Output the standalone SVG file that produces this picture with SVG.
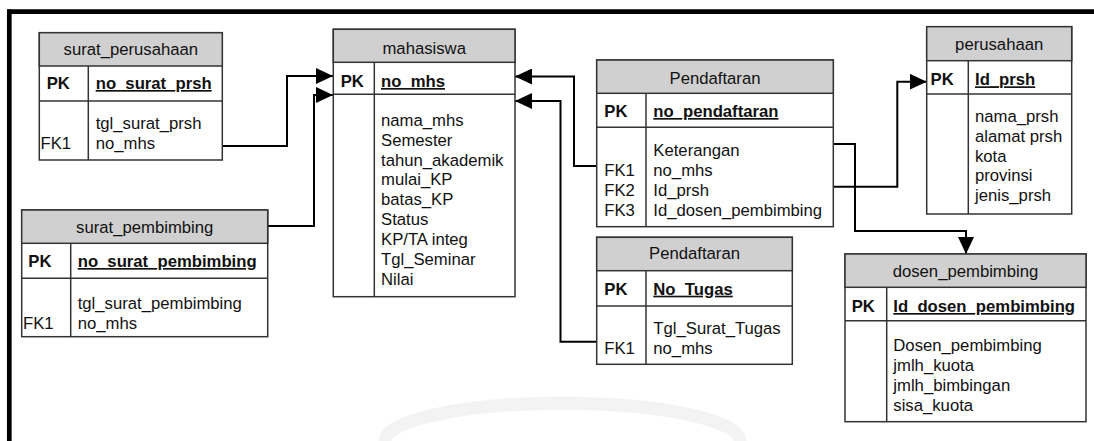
<svg xmlns="http://www.w3.org/2000/svg" width="1094" height="441" viewBox="0 0 1094 441">
<style>
text{font-family:"Liberation Sans",Arial,sans-serif;font-size:16.7px;fill:#111}
.hd{text-anchor:middle}
.b{font-weight:bold}
.u{font-weight:bold;text-decoration:underline}
.box{fill:#fff;stroke:#333;stroke-width:1.5}
.head{fill:#d0d0d0;stroke:#333;stroke-width:1.5}
.ln{stroke:#333;stroke-width:1.5;fill:none}
.con{stroke:#000;stroke-width:2;fill:none;marker-end:url(#ah)}
</style>
<defs>
<marker id="ah" markerUnits="userSpaceOnUse" viewBox="0 0 17 16" refX="17" refY="8" markerWidth="17" markerHeight="16" orient="auto">
<path d="M0,0 L17,8 L0,16 Z" fill="#000"/>
</marker>
</defs>
<rect width="1094" height="441" fill="#fff"/>
<path d="M540,441 m-155,0 a160,34 0 0 1 355,0" fill="none" stroke="#f3f3f3" stroke-width="13"/>
<g id="frame">
<line x1="7" y1="11.7" x2="1094" y2="11.7" stroke="#000" stroke-width="4.7"/>
<line x1="9.3" y1="9.5" x2="9.3" y2="441" stroke="#000" stroke-width="4.7"/>
</g>
<g id="connectors">
<path class="con" d="M222.3,146 H287 V76 H333"/>
<path class="con" d="M267.7,226 H314 V95 H333"/>
<path class="con" d="M596.7,166 H574 V76.5 H515"/>
<path class="con" d="M596.7,341.7 H560.5 V101 H515"/>
<path class="con" d="M833.3,186.7 H897.3 V81.7 H926.7"/>
<path class="con" d="M833.3,144 H855 V231 H966 V254"/>
</g>
<g id="surat_perusahaan">
<rect class="box" x="39.3" y="32.7" width="183" height="127.3"/>
<rect class="head" x="39.3" y="32.7" width="183" height="33.3"/>
<line class="ln" x1="39.3" y1="101" x2="222.3" y2="101"/>
<line class="ln" x1="88.3" y1="66" x2="88.3" y2="160"/>
<text class="hd" x="130.8" y="55">surat_perusahaan</text>
<text class="b" x="46.7" y="89">PK</text>
<text class="u" x="95.7" y="89">no_surat_prsh</text>
<text x="95.7" y="128.7">tgl_surat_prsh</text>
<text x="95.7" y="148.5">no_mhs</text>
<text x="40.5" y="148.5">FK1</text>
</g>
<g id="surat_pembimbing">
<rect class="box" x="21.7" y="210" width="246" height="126.7"/>
<rect class="head" x="21.7" y="210" width="246" height="33.3"/>
<line class="ln" x1="21.7" y1="278.3" x2="267.7" y2="278.3"/>
<line class="ln" x1="70.7" y1="243.3" x2="70.7" y2="336.7"/>
<text class="hd" x="144.7" y="233">surat_pembimbing</text>
<text class="b" x="28.3" y="267">PK</text>
<text class="u" x="77.7" y="267">no_surat_pembimbing</text>
<text x="77.7" y="308.7">tgl_surat_pembimbing</text>
<text x="77.7" y="328.5">no_mhs</text>
<text x="23" y="328.5">FK1</text>
</g>
<g id="mahasiswa">
<rect class="box" x="333.3" y="29.3" width="181.7" height="267.4"/>
<rect class="head" x="333.3" y="29.3" width="181.7" height="33"/>
<line class="ln" x1="333.3" y1="94.3" x2="515" y2="94.3"/>
<line class="ln" x1="374.3" y1="62.3" x2="374.3" y2="296.7"/>
<text class="hd" x="424.2" y="53.7">mahasiswa</text>
<text class="b" x="340.7" y="87">PK</text>
<text class="u" x="381" y="87">no_mhs</text>
<text x="381" y="126">nama_mhs</text>
<text x="381" y="145.8">Semester</text>
<text x="381" y="165.6">tahun_akademik</text>
<text x="381" y="185.4">mulai_KP</text>
<text x="381" y="205.2">batas_KP</text>
<text x="381" y="225">Status</text>
<text x="381" y="244.8">KP/TA integ</text>
<text x="381" y="264.6">Tgl_Seminar</text>
<text x="381" y="284.6">Nilai</text>
</g>
<g id="pendaftaran">
<rect class="box" x="596.7" y="60" width="236.6" height="166.7"/>
<rect class="head" x="596.7" y="60" width="236.6" height="33.3"/>
<line class="ln" x1="596.7" y1="127.3" x2="833.3" y2="127.3"/>
<line class="ln" x1="646" y1="93.3" x2="646" y2="226.7"/>
<text class="hd" x="715" y="83.7">Pendaftaran</text>
<text class="b" x="604.3" y="117">PK</text>
<text class="u" x="653.3" y="117">no_pendaftaran</text>
<text x="653.3" y="156.3">Keterangan</text>
<text x="653.3" y="176">no_mhs</text>
<text x="653.3" y="195.8">Id_prsh</text>
<text x="653.3" y="215.6">Id_dosen_pembimbing</text>
<text x="604.3" y="176">FK1</text>
<text x="604.3" y="195.8">FK2</text>
<text x="604.3" y="215.6">FK3</text>
</g>
<g id="pendaftaran_tugas">
<rect class="box" x="596.7" y="237.3" width="195.6" height="127"/>
<rect class="head" x="596.7" y="237.3" width="195.6" height="33.4"/>
<line class="ln" x1="596.7" y1="306" x2="792.3" y2="306"/>
<line class="ln" x1="646" y1="270.7" x2="646" y2="364.3"/>
<text class="hd" x="694.5" y="258.7">Pendaftaran</text>
<text class="b" x="604.3" y="294.7">PK</text>
<text class="u" x="653.3" y="294.7">No_Tugas</text>
<text x="653.3" y="333.7">Tgl_Surat_Tugas</text>
<text x="653.3" y="353.5">no_mhs</text>
<text x="604.3" y="353.5">FK1</text>
</g>
<g id="perusahaan">
<rect class="box" x="926.7" y="26.7" width="145" height="187.3"/>
<rect class="head" x="926.7" y="26.7" width="145" height="34"/>
<line class="ln" x1="926.7" y1="94" x2="1071.7" y2="94"/>
<line class="ln" x1="968.3" y1="60.7" x2="968.3" y2="214"/>
<text class="hd" x="999.2" y="50.3">perusahaan</text>
<text class="b" x="930.5" y="85.3">PK</text>
<text class="u" x="975" y="85.3">Id_prsh</text>
<text x="975" y="122">nama_prsh</text>
<text x="975" y="141.8">alamat prsh</text>
<text x="975" y="161.6">kota</text>
<text x="975" y="181.4">provinsi</text>
<text x="975" y="201.2">jenis_prsh</text>
</g>
<g id="dosen_pembimbing">
<rect class="box" x="845" y="254" width="241" height="167.7"/>
<rect class="head" x="845" y="254" width="241" height="33.3"/>
<line class="ln" x1="845" y1="320.7" x2="1086" y2="320.7"/>
<line class="ln" x1="886.7" y1="287.3" x2="886.7" y2="421.7"/>
<text class="hd" x="965.5" y="277">dosen_pembimbing</text>
<text class="b" x="851.7" y="312">PK</text>
<text class="u" x="893.3" y="312">Id_dosen_pembimbing</text>
<text x="893.3" y="351.3">Dosen_pembimbing</text>
<text x="893.3" y="371">jmlh_kuota</text>
<text x="893.3" y="390.8">jmlh_bimbingan</text>
<text x="893.3" y="410.6">sisa_kuota</text>
</g>
</svg>
